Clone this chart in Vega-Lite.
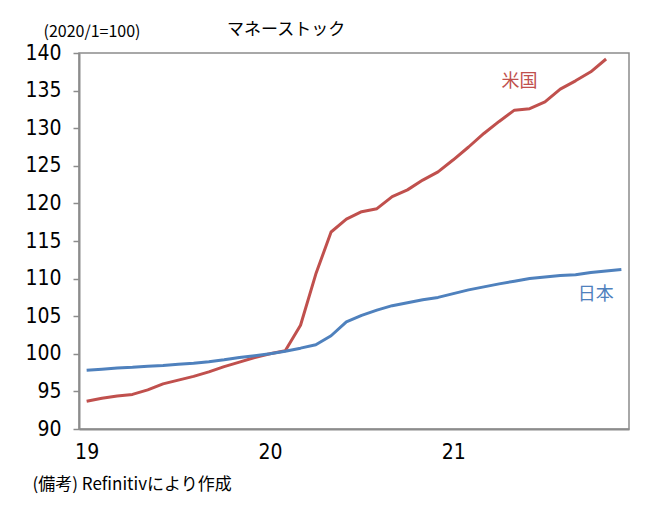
{
  "$schema": "https://vega.github.io/schema/vega-lite/v6.json",
  "autosize": "none",
  "padding": {"left": 79, "top": 53, "right": 17, "bottom": 85},
  "width": 550,
  "height": 376,
  "background": "white",
  "config": {
    "view": {"stroke": "#8c8c8c", "strokeWidth": 1.5},
    "font": "Noto Sans CJK JP"
  },
  "title": {
    "text": "マネーストック",
    "anchor": "start",
    "frame": "group",
    "dx": 148,
    "offset": -16,
    "fontSize": 17,
    "fontWeight": "normal",
    "font": "Noto Sans CJK JP",
    "color": "black"
  },
  "datasets": {
    "series": [
      {"m": "2019-01", "series": "米国", "v": 93.7},
      {"m": "2019-02", "series": "米国", "v": 94.1},
      {"m": "2019-03", "series": "米国", "v": 94.4},
      {"m": "2019-04", "series": "米国", "v": 94.6},
      {"m": "2019-05", "series": "米国", "v": 95.2},
      {"m": "2019-06", "series": "米国", "v": 96.0},
      {"m": "2019-07", "series": "米国", "v": 96.5},
      {"m": "2019-08", "series": "米国", "v": 97.0},
      {"m": "2019-09", "series": "米国", "v": 97.6},
      {"m": "2019-10", "series": "米国", "v": 98.3},
      {"m": "2019-11", "series": "米国", "v": 98.9},
      {"m": "2019-12", "series": "米国", "v": 99.5},
      {"m": "2020-01", "series": "米国", "v": 100.0},
      {"m": "2020-02", "series": "米国", "v": 100.4},
      {"m": "2020-03", "series": "米国", "v": 103.8},
      {"m": "2020-04", "series": "米国", "v": 110.6},
      {"m": "2020-05", "series": "米国", "v": 116.2},
      {"m": "2020-06", "series": "米国", "v": 117.9},
      {"m": "2020-07", "series": "米国", "v": 118.9},
      {"m": "2020-08", "series": "米国", "v": 119.3},
      {"m": "2020-09", "series": "米国", "v": 120.9},
      {"m": "2020-10", "series": "米国", "v": 121.8},
      {"m": "2020-11", "series": "米国", "v": 123.1},
      {"m": "2020-12", "series": "米国", "v": 124.2},
      {"m": "2021-01", "series": "米国", "v": 125.8},
      {"m": "2021-02", "series": "米国", "v": 127.5},
      {"m": "2021-03", "series": "米国", "v": 129.3},
      {"m": "2021-04", "series": "米国", "v": 130.9},
      {"m": "2021-05", "series": "米国", "v": 132.4},
      {"m": "2021-06", "series": "米国", "v": 132.6},
      {"m": "2021-07", "series": "米国", "v": 133.5},
      {"m": "2021-08", "series": "米国", "v": 135.2},
      {"m": "2021-09", "series": "米国", "v": 136.3},
      {"m": "2021-10", "series": "米国", "v": 137.5},
      {"m": "2021-11", "series": "米国", "v": 139.2},
      {"m": "2019-01", "series": "日本", "v": 97.8},
      {"m": "2019-02", "series": "日本", "v": 97.95},
      {"m": "2019-03", "series": "日本", "v": 98.1},
      {"m": "2019-04", "series": "日本", "v": 98.2},
      {"m": "2019-05", "series": "日本", "v": 98.35},
      {"m": "2019-06", "series": "日本", "v": 98.45},
      {"m": "2019-07", "series": "日本", "v": 98.6},
      {"m": "2019-08", "series": "日本", "v": 98.75},
      {"m": "2019-09", "series": "日本", "v": 98.95},
      {"m": "2019-10", "series": "日本", "v": 99.2},
      {"m": "2019-11", "series": "日本", "v": 99.5},
      {"m": "2019-12", "series": "日本", "v": 99.75},
      {"m": "2020-01", "series": "日本", "v": 100.0},
      {"m": "2020-02", "series": "日本", "v": 100.35},
      {"m": "2020-03", "series": "日本", "v": 100.75},
      {"m": "2020-04", "series": "日本", "v": 101.2},
      {"m": "2020-05", "series": "日本", "v": 102.4},
      {"m": "2020-06", "series": "日本", "v": 104.25},
      {"m": "2020-07", "series": "日本", "v": 105.1},
      {"m": "2020-08", "series": "日本", "v": 105.8},
      {"m": "2020-09", "series": "日本", "v": 106.4},
      {"m": "2020-10", "series": "日本", "v": 106.8},
      {"m": "2020-11", "series": "日本", "v": 107.2},
      {"m": "2020-12", "series": "日本", "v": 107.5},
      {"m": "2021-01", "series": "日本", "v": 108.0},
      {"m": "2021-02", "series": "日本", "v": 108.5},
      {"m": "2021-03", "series": "日本", "v": 108.9},
      {"m": "2021-04", "series": "日本", "v": 109.3},
      {"m": "2021-05", "series": "日本", "v": 109.65},
      {"m": "2021-06", "series": "日本", "v": 110.0},
      {"m": "2021-07", "series": "日本", "v": 110.2},
      {"m": "2021-08", "series": "日本", "v": 110.4},
      {"m": "2021-09", "series": "日本", "v": 110.5},
      {"m": "2021-10", "series": "日本", "v": 110.8},
      {"m": "2021-11", "series": "日本", "v": 111.0},
      {"m": "2021-12", "series": "日本", "v": 111.2}
    ],
    "labels": [
      {"m": "2021-05", "series": "米国", "v": 136.1},
      {"m": "2021-10", "series": "日本", "v": 107.8}
    ]
  },
  "encoding": {
    "x": {
      "field": "m",
      "type": "ordinal",
      "scale": {"type": "point", "padding": 0.5},
      "axis": {
        "values": ["2019-01", "2020-01", "2021-01"],
        "labelExpr": "slice(datum.value, 2, 4)",
        "labelAngle": 0,
        "labelFont": "'Liberation Sans Narrow', 'DejaVu Sans Condensed', 'Liberation Sans'",
        "labelFontSize": 21,
        "labelColor": "black",
        "labelPadding": 12,
        "ticks": false,
        "domainColor": "#8c8c8c",
        "domainWidth": 2,
        "title": "(備考) Refinitivにより作成",
        "titleFont": "Noto Sans CJK JP",
        "titleFontSize": 17,
        "titleFontWeight": "normal",
        "titleColor": "black",
        "titleAlign": "left",
        "titleAnchor": "start",
        "titleBaseline": "alphabetic",
        "titleX": -47,
        "titleY": 60
      }
    },
    "y": {
      "field": "v",
      "type": "quantitative",
      "scale": {"domain": [90, 140], "nice": false, "zero": false},
      "axis": {
        "values": [90, 95, 100, 105, 110, 115, 120, 125, 130, 135, 140],
        "labelOverlap": false,
        "grid": false,
        "tickSize": 6,
        "tickColor": "#8c8c8c",
        "tickWidth": 1.5,
        "domainColor": "#8c8c8c",
        "domainWidth": 2,
        "labelFont": "'Liberation Sans Narrow', 'DejaVu Sans Condensed', 'Liberation Sans'",
        "labelFontSize": 21,
        "labelColor": "black",
        "labelPadding": 12,
        "title": "(2020/1=100)",
        "titleAngle": 0,
        "titleFont": "Noto Sans CJK JP",
        "titleFontSize": 16,
        "titleFontWeight": "normal",
        "titleColor": "black",
        "titleAlign": "left",
        "titleBaseline": "alphabetic",
        "titleX": -36,
        "titleY": -17
      }
    },
    "color": {
      "field": "series",
      "type": "nominal",
      "scale": {"domain": ["米国", "日本"], "range": ["#C0504D", "#4F81BD"]},
      "legend": null
    }
  },
  "layer": [
    {
      "data": {"name": "series"},
      "mark": {"type": "line", "strokeWidth": 3, "strokeJoin": "round"}
    },
    {
      "data": {"name": "labels"},
      "mark": {"type": "text", "fontSize": 18, "font": "Noto Sans CJK JP", "dx": 5},
      "encoding": {
        "text": {"field": "series"}
      }
    }
  ]
}
